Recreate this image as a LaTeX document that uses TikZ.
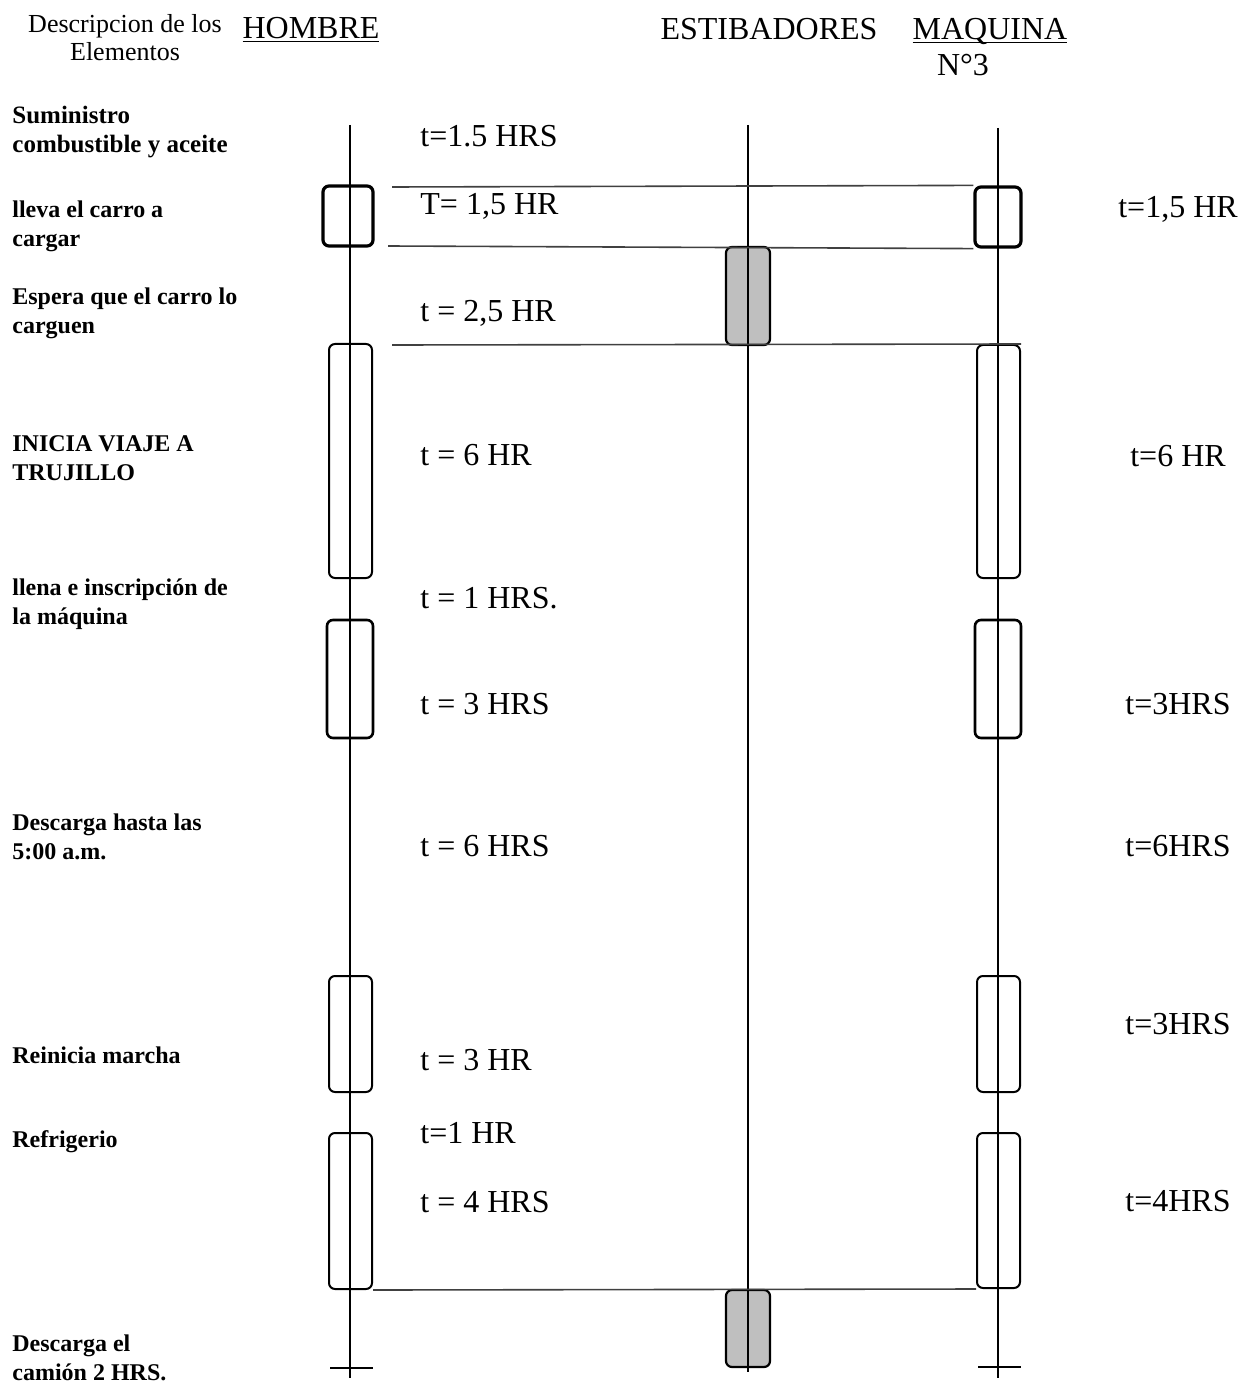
\documentclass[tikz,border=0pt]{standalone}
\usepackage{fontspec}
\setmainfont{Liberation Serif}

\begin{document}
\begin{tikzpicture}[x=0.5pt,y=-0.5pt,
  lifeline/.style={line width=1pt},
  actbox/.style={draw,line width=1pt,rounded corners=3pt,inner sep=0pt},
  gangbox/.style={draw,line width=1.1pt,rounded corners=3pt,inner sep=0pt,fill=black!25},
  sepline/.style={line width=0.8pt,black!75},
  desc/.style={anchor=west,align=left,inner sep=0pt,font=\fontsize{12}{14.5}\selectfont\bfseries},
  tval/.style={anchor=west,inner sep=0pt,font=\fontsize{16}{19}\selectfont},
  tmaq/.style={font=\fontsize{16}{19}\selectfont},
  head/.style={anchor=base,inner sep=0pt,font=\fontsize{16}{19}\selectfont}]
\useasboundingbox (0,0) rectangle (1254,1385);
% encabezados
\node[align=center,font=\fontsize{13}{14}\selectfont] (hdesc) at (125,38) {Descripcion de los\\Elementos};
\node[head] (hhom) at (311,39) {\underline{\smash{HOMBRE}}};
\node[head] (hest) at (769,40) {ESTIBADORES};
\node[head] (hmaq) at (990,40) {\underline{\smash{MAQUINA}}};
\node[head] (hnum) at (963,76) {N°3};
% estibadores
\node[gangbox,minimum width=22pt,minimum height=49pt] (eb1) at (748,296) {};
\node[gangbox,minimum width=22pt,minimum height=38.5pt] (eb2) at (748,1328.5) {};
% lineas de vida
\coordinate (htop) at (350,125);
\coordinate (hbot) at (350,1378);
\coordinate (etop) at (748,125);
\coordinate (ebot) at (748,1372);
\coordinate (mtop) at (998,128);
\coordinate (mbot) at (998,1378);
\draw[lifeline] (htop) -- (hbot);
\draw[lifeline] (etop) -- (ebot);
\draw[lifeline] (mtop) -- (mbot);
\coordinate (hx1) at (330,1368);
\coordinate (hx2) at (373,1368);
\coordinate (mx1) at (978,1367);
\coordinate (mx2) at (1021,1367);
\draw[line width=1.3pt] (hx1) -- (hx2);
\draw[line width=1.3pt] (mx1) -- (mx2);
% hombre
\node[actbox,line width=1.6pt,minimum width=25pt,minimum height=30pt] (hb1) at (348,216) {};
\node[actbox,minimum width=21.5pt,minimum height=117pt] (hb2) at (350.5,461) {};
\node[actbox,line width=1.3pt,minimum width=23pt,minimum height=59pt] (hb3) at (350,679) {};
\node[actbox,minimum width=21.5pt,minimum height=58pt] (hb4) at (350.5,1034) {};
\node[actbox,minimum width=21.5pt,minimum height=78pt] (hb5) at (350.5,1211) {};
% maquina
\node[actbox,line width=1.6pt,minimum width=23pt,minimum height=30pt] (mb1) at (998,217) {};
\node[actbox,minimum width=21.5pt,minimum height=116.5pt] (mb2) at (998.5,461.5) {};
\node[actbox,line width=1.3pt,minimum width=23pt,minimum height=59pt] (mb3) at (998,679) {};
\node[actbox,minimum width=21.5pt,minimum height=58pt] (mb4) at (998.5,1034) {};
\node[actbox,minimum width=21.5pt,minimum height=77.5pt] (mb5) at (998.5,1210.5) {};
% lineas horizontales
\coordinate (s1) at (392,187);
\coordinate (s2) at (388,246);
\coordinate (s3) at (392,345);
\draw[sepline] (s1) -- (mb1.north west);
\draw[sepline] (s2) -- (mb1.south west);
\draw[sepline] (s3) -- (mb2.north east);
\draw[sepline] (hb5.south east) -- (mb5.south west);
% descripcion de los elementos
\node[desc,font=\fontsize{12.5}{14.5}\selectfont\bfseries] (d1) at (12,132.5) {Suministro\\combustible y aceite};
\node[desc] (d2) at (12,226.5) {lleva el carro a\\cargar};
\node[desc] (d3) at (12,313.5) {Espera que el carro lo\\carguen};
\node[desc] (d4) at (12,458.5) {INICIA VIAJE A\\TRUJILLO};
\node[desc] (d5) at (12,604.5) {llena e inscripción de\\la máquina};
\node[desc] (d6) at (12,836.5) {Descarga hasta las\\5:00 a.m.};
\node[desc] (d7) at (12,1055) {Reinicia marcha};
\node[desc] (d8) at (12,1142) {Refrigerio};
\node[desc] (d9) at (12,1357.5) {Descarga el\\camión 2 HRS.};
% tiempos hombre
\node[tval] (t1) at (420,136) {t=1.5 HRS};
\node[tval] (t2) at (420,206) {T= 1,5 HR};
\node[tval] (t3) at (420,313) {t = 2,5 HR};
\node[tval] (t4) at (420,455) {t = 6 HR};
\node[tval] (t5) at (420,598) {t = 1 HRS.};
\node[tval] (t6) at (420,704) {t = 3 HRS};
\node[tval] (t7) at (420,846) {t = 6 HRS};
\node[tval] (t8) at (420,1060) {t = 3 HR};
\node[tval] (t9) at (420,1133) {t=1 HR};
\node[tval] (t10) at (420,1202) {t = 4 HRS};
% tiempos maquina
\node[tmaq] (q1) at (1178,209) {t=1,5 HR};
\node[tmaq] (q2) at (1178,456) {t=6 HR};
\node[tmaq] (q3) at (1178,704) {t=3HRS};
\node[tmaq] (q4) at (1178,846) {t=6HRS};
\node[tmaq] (q5) at (1178,1024) {t=3HRS};
\node[tmaq] (q6) at (1178,1201) {t=4HRS};
\end{tikzpicture}
\end{document}
